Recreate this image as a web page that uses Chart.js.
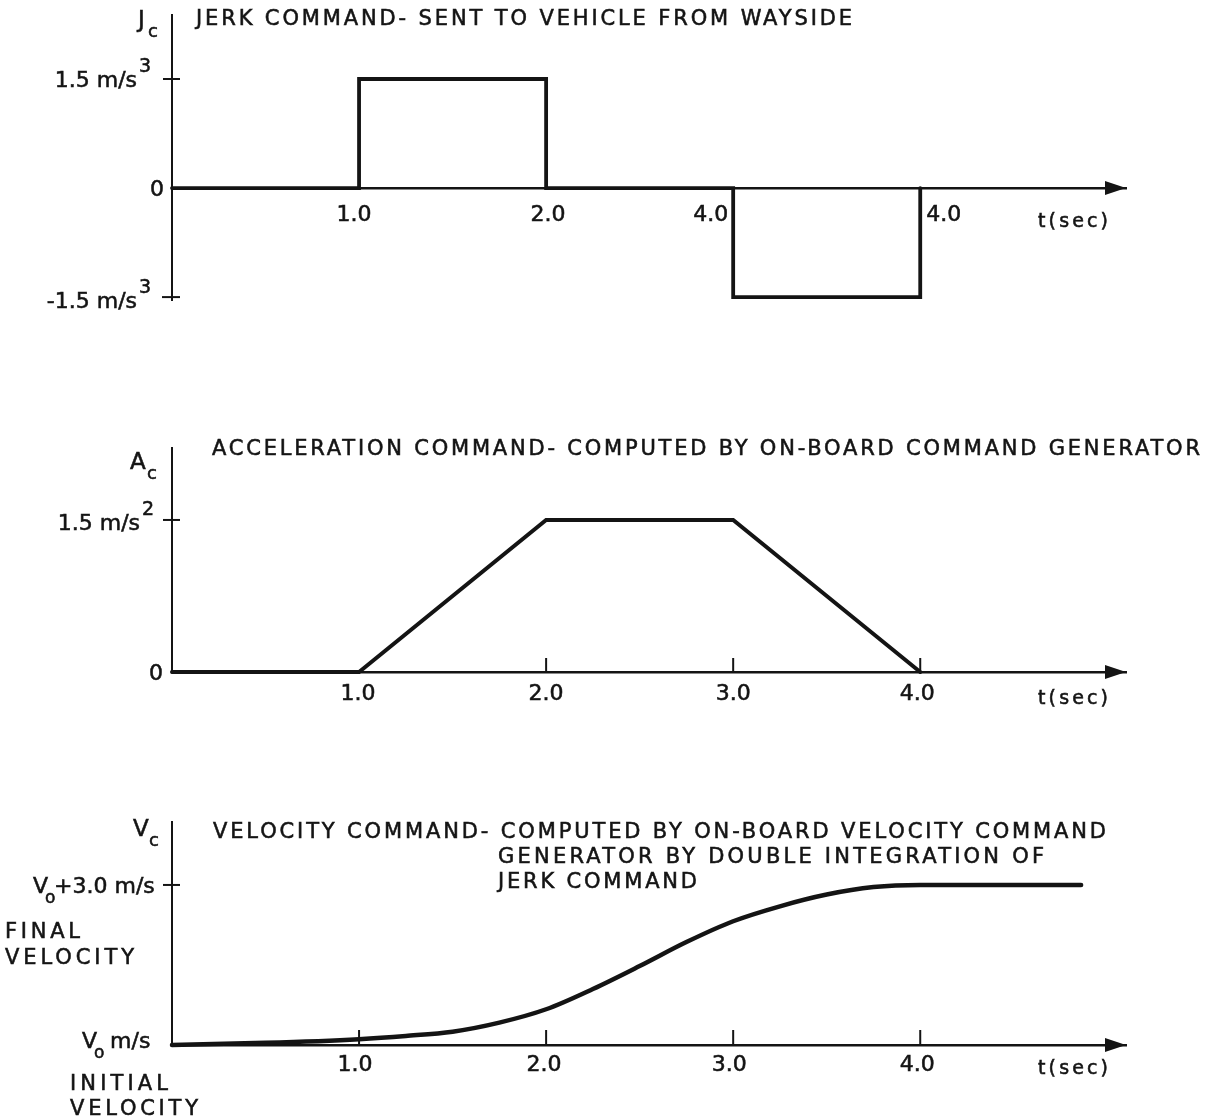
<!DOCTYPE html>
<html>
<head>
<meta charset="utf-8">
<script src="https://cdn.jsdelivr.net/npm/chart.js@4.4.1/dist/chart.umd.min.js"></script>
<style>
  html, body { margin: 0; padding: 0; background: #ffffff; }
  #sheet { position: relative; width: 1207px; height: 1120px; overflow: hidden; background: #ffffff; }
  #sheet canvas { position: absolute; left: 0; }
</style>
</head>
<body>
<div id="sheet">
  <canvas id="jerk" width="1207" height="330" style="top:0px"></canvas>
  <canvas id="accel" width="1207" height="400" style="top:330px"></canvas>
  <canvas id="vel" width="1207" height="390" style="top:730px"></canvas>
</div>
<script>
// ---- time axis (seconds) ----
const timeMax = 5.1;
const xTickValues = [1, 2, 3, 4];
const xTickLabels = ['1.0', '2.0', '3.0', '4.0'];
const jerkTickLabels = ['1.0', '2.0', '4.0', '4.0'];

// ---- jerk command, m/s^3 (sent from wayside) ----
const jerkTime  = [0, 1, 1, 2, 2, 3, 3, 4, 4];
const jerkValue = [0, 0, 1.5, 1.5, 0, 0, -1.5, -1.5, 0];

// ---- acceleration command, m/s^2 ----
const accelTime  = [0, 1, 2, 3, 4];
const accelValue = [0, 0, 1.5, 1.5, 0];

// ---- velocity command, m/s above V0 ----
const velTime  = [0, 0.5, 1.0, 1.25, 1.5, 1.75, 2.0, 2.25, 2.5, 2.75, 3.0, 3.25, 3.5, 3.75, 4.0, 4.86];
const velValue = [0, 0.04, 0.11, 0.17, 0.25, 0.42, 0.67, 1.05, 1.48, 1.93, 2.32, 2.6, 2.82, 2.96, 3.0, 3.0];

const INK = '#141414';
const FONT = '"DejaVu Sans", "Liberation Sans", Arial, sans-serif';
const PEN = 0.55; // outline added to lettering for a drafted weight

function toPoints(xs, ys) { return xs.map((x, i) => ({ x: x, y: ys[i] })); }

// text with letter spacing stretched to a given width
function spaced(ctx, text, x, y, size, width, align) {
  ctx.save();
  ctx.font = size + 'px ' + FONT;
  ctx.fillStyle = INK;
  ctx.strokeStyle = INK;
  ctx.lineWidth = PEN;
  ctx.textAlign = 'left';
  ctx.textBaseline = 'alphabetic';
  if ('letterSpacing' in ctx) ctx.letterSpacing = '0px';
  const w0 = ctx.measureText(text).width;
  const n = text.length;
  const sp = width ? (width - w0) / Math.max(1, n - 1) : 0;
  const total = w0 + sp * (n - 1);
  const sx = align === 'right' ? x - total : (align === 'center' ? x - total / 2 : x);
  if ('letterSpacing' in ctx) {
    ctx.letterSpacing = sp + 'px';
    ctx.fillText(text, sx, y);
    ctx.strokeText(text, sx, y);
  } else {
    let cx = sx;
    for (const ch of text) {
      ctx.fillText(ch, cx, y);
      ctx.strokeText(ch, cx, y);
      cx += ctx.measureText(ch).width + sp;
    }
  }
  ctx.restore();
  return sx + total;
}

function plain(ctx, text, x, y, size, align) {
  ctx.save();
  ctx.font = size + 'px ' + FONT;
  ctx.fillStyle = INK;
  ctx.strokeStyle = INK;
  ctx.lineWidth = PEN;
  ctx.textAlign = align || 'left';
  ctx.textBaseline = 'alphabetic';
  ctx.fillText(text, x, y);
  ctx.strokeText(text, x, y);
  const w = ctx.measureText(text).width;
  ctx.restore();
  return w;
}

// axis furniture and lettering drawn from the chart's scales
function lettering(panel) {
  return {
    id: 'lettering-' + panel.id,
    afterDraw(chart) {
      const ctx = chart.ctx;
      const xs = chart.scales.x, ys = chart.scales.y;
      const x0 = xs.getPixelForValue(0);
      const y0 = ys.getPixelForValue(0);
      const top = panel.top;
      ctx.save();
      ctx.strokeStyle = INK;
      ctx.fillStyle = INK;

      // y tick marks crossing the axis
      ctx.lineWidth = 2;
      panel.yMarks.forEach(m => {
        const py = ys.getPixelForValue(m.value);
        ctx.beginPath();
        ctx.moveTo(x0 - m.left, py);
        ctx.lineTo(x0 + m.right, py);
        ctx.stroke();
      });

      // x tick marks standing on the time axis
      panel.xMarks.forEach(v => {
        const px = xs.getPixelForValue(v);
        ctx.beginPath();
        ctx.moveTo(px, y0);
        ctx.lineTo(px, y0 - panel.xMarkLen);
        ctx.stroke();
      });

      // arrow head on the time axis
      const tip = xs.getPixelForValue(timeMax);
      ctx.beginPath();
      ctx.moveTo(tip, y0);
      ctx.lineTo(tip - 21, y0 - 7);
      ctx.lineTo(tip - 21, y0 + 7);
      ctx.closePath();
      ctx.fill();
      ctx.restore();

      // time tick labels
      panel.xLabels.forEach((lab, i) => {
        const px = xs.getPixelForValue(panel.xLabelValues[i]) + (panel.xLabelDx ? panel.xLabelDx[i] : 0);
        const al = panel.xLabelAlign ? panel.xLabelAlign[i] : 'center';
        plain(ctx, lab, px, y0 + panel.xLabelDy, 22, al);
      });
      spaced(ctx, 't(sec)', 1038, panel.tsecY - top, 19, 70, 'left');

      // value labels on the vertical axis
      panel.yLabels.forEach(l => {
        const py = ys.getPixelForValue(l.value);
        plain(ctx, l.text, l.right, py + l.dy, 22, 'right');
        if (l.sup) plain(ctx, l.sup, l.right + 2, py + l.supDy, 19, 'left');
      });

      // axis name with subscript
      const n = panel.name;
      plain(ctx, n.main, n.x, n.y - top, 23, 'left');
      plain(ctx, n.sub, n.x + n.subDx, n.y - top + 10, 18, 'left');

      // captions
      panel.captions.forEach(c => spaced(ctx, c.text, c.x, c.y - top, c.size || 21, c.w, 'left'));

      if (panel.extra) panel.extra(ctx, xs, ys, top);
    }
  };
}

function makeChart(panel) {
  return new Chart(document.getElementById(panel.id), {
    type: 'line',
    data: {
      datasets: [{
        data: panel.points,
        borderColor: INK,
        borderWidth: panel.lineWidth,
        pointRadius: 0,
        fill: false,
        tension: 0,
        cubicInterpolationMode: panel.smooth ? 'monotone' : 'default',
        borderCapStyle: 'round',
        borderJoinStyle: 'miter',
        clip: false
      }]
    },
    options: {
      responsive: false,
      animation: false,
      devicePixelRatio: 1,
      layout: { padding: panel.padding },
      plugins: { legend: { display: false }, tooltip: { enabled: false }, title: { display: false } },
      scales: {
        x: {
          type: 'linear', min: 0, max: timeMax, position: panel.xPosition,
          ticks: { display: false },
          grid: { display: false, drawTicks: false, tickLength: 0 },
          border: { display: true, color: INK, width: 2.5 }
        },
        y: {
          type: 'linear', min: panel.yMin, max: panel.yMax, position: 'left',
          ticks: { display: false },
          grid: { display: false, drawTicks: false, tickLength: 0 },
          border: { display: true, color: INK, width: 2 }
        }
      }
    },
    plugins: [lettering(panel)]
  });
}

// ---- jerk panel ----
makeChart({
  id: 'jerk', top: 0,
  points: toPoints(jerkTime, jerkValue),
  lineWidth: 3.8, smooth: false,
  padding: { left: 172, right: 81, top: 15, bottom: 30 },
  xPosition: { y: 0 },
  yMin: -1.54, yMax: 2.38,
  yMarks: [{ value: 1.5, left: 9, right: 8 }, { value: -1.5, left: 10, right: 8 }],
  xMarks: [], xMarkLen: 0,
  xLabelValues: xTickValues, xLabels: jerkTickLabels,
  xLabelAlign: ['center', 'center', 'right', 'left'],
  xLabelDx: [-5, 2, -5, 6],
  xLabelDy: 33,
  tsecY: 227,
  yLabels: [
    { value: 1.5, text: '1.5 m/s', sup: '3', right: 137, dy: 8, supDy: -7 },
    { value: 0, text: '0', right: 164, dy: 8 },
    { value: -1.5, text: '-1.5 m/s', sup: '3', right: 137, dy: 11, supDy: -4 }
  ],
  name: { main: 'J', sub: 'c', x: 138, y: 27, subDx: 10 },
  captions: [{ text: 'JERK COMMAND- SENT TO VEHICLE FROM WAYSIDE', x: 196, y: 25, w: 656 }]
});

// ---- acceleration panel ----
makeChart({
  id: 'accel', top: 330,
  points: toPoints(accelTime, accelValue),
  lineWidth: 4, smooth: false,
  padding: { left: 172, right: 81, top: 118, bottom: 58 },
  xPosition: 'bottom',
  yMin: 0, yMax: 2.21,
  yMarks: [{ value: 1.5, left: 9, right: 8 }],
  xMarks: [2, 3, 4], xMarkLen: 14,
  xLabelValues: xTickValues, xLabels: xTickLabels,
  xLabelDx: [-1, 0, 0, -3],
  xLabelDy: 28,
  tsecY: 704,
  yLabels: [
    { value: 1.5, text: '1.5 m/s', sup: '2', right: 140, dy: 10, supDy: -5 },
    { value: 0, text: '0', right: 163, dy: 8 }
  ],
  name: { main: 'A', sub: 'c', x: 130, y: 469, subDx: 17 },
  captions: [{ text: 'ACCELERATION COMMAND- COMPUTED BY ON-BOARD COMMAND GENERATOR', x: 212, y: 455, w: 988 }]
});

// ---- velocity panel ----
makeChart({
  id: 'vel', top: 730,
  points: toPoints(velTime, velValue),
  lineWidth: 4.5, smooth: true,
  padding: { left: 172, right: 81, top: 92, bottom: 75 },
  xPosition: 'bottom',
  yMin: 0, yMax: 4.18,
  yMarks: [{ value: 3.0, left: 9, right: 8 }],
  xMarks: [1, 2, 3, 4], xMarkLen: 15,
  xLabelValues: xTickValues, xLabels: xTickLabels,
  xLabelDx: [-4, -2, -4, -3],
  xLabelDy: 26,
  tsecY: 1074,
  yLabels: [],
  name: { main: 'V', sub: 'c', x: 133, y: 836, subDx: 16 },
  captions: [
    { text: 'VELOCITY COMMAND- COMPUTED BY ON-BOARD VELOCITY COMMAND', x: 213, y: 838, w: 893 },
    { text: 'GENERATOR BY DOUBLE INTEGRATION OF', x: 498, y: 863, w: 546 },
    { text: 'JERK COMMAND', x: 498, y: 888, w: 199 },
    { text: 'FINAL', x: 5, y: 938, w: 75 },
    { text: 'VELOCITY', x: 5, y: 964, w: 129 },
    { text: 'INITIAL', x: 70, y: 1090, w: 98 },
    { text: 'VELOCITY', x: 70, y: 1115, w: 128 }
  ],
  // V0-based value labels: V with subscript o, then the rest
  extra(ctx, xs, ys, top) {
    const yTop = ys.getPixelForValue(3.0);
    const yBase = ys.getPixelForValue(0);
    // "V0+3.0 m/s"
    let x = 33;
    const wV = plain(ctx, 'V', x, yTop + 8, 22, 'left');
    plain(ctx, 'o', x + wV - 3, yTop + 18, 17, 'left');
    plain(ctx, '+3.0 m/s', x + wV + 6, yTop + 8, 22, 'left');
    // "V0 m/s"
    x = 82;
    const wV2 = plain(ctx, 'V', x, yBase + 3, 22, 'left');
    plain(ctx, 'o', x + wV2 - 3, yBase + 13, 17, 'left');
    plain(ctx, 'm/s', x + wV2 + 13, yBase + 3, 22, 'left');
  }
});
</script>
</body>
</html>
